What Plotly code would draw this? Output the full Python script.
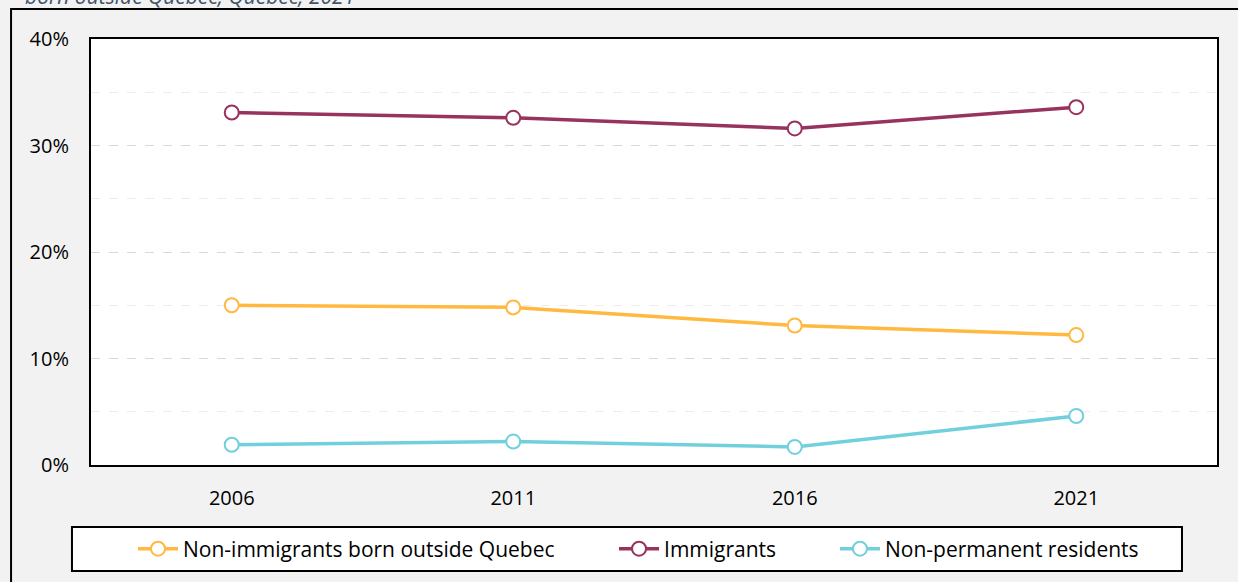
import plotly.graph_objects as go

years = ["2006", "2011", "2016", "2021"]
non_immigrants_outside = [15.0, 14.8, 13.1, 12.2]
immigrants = [33.1, 32.6, 31.6, 33.6]
non_permanent = [1.9, 2.2, 1.7, 4.6]

FONT = "Open Sans, sans-serif"

series = [
    ("Non-immigrants born outside Quebec", non_immigrants_outside, "#FFB940", "legend", 0.0373),
    ("Immigrants", immigrants, "#98325E", "legend2", 0.4645),
    ("Non-permanent residents", non_permanent, "#72D0DC", "legend3", 0.6607),
]

fig = go.Figure()
legends = {}
for name, vals, col, lg, lx in series:
    fig.add_trace(go.Scatter(
        x=years, y=vals, name=name, mode="lines+markers", legend=lg,
        line=dict(color=col, width=3.5),
        marker=dict(symbol="circle", size=14, color="white", line=dict(color=col, width=2)),
    ))
    legends[lg] = dict(x=lx, y=-0.1972, xanchor="left", yanchor="middle",
                       bgcolor="rgba(0,0,0,0)", itemwidth=40,
                       font=dict(family=FONT, size=21, color="black"))

# outer frame and legend box
fig.add_shape(type="rect", xref="paper", yref="paper",
              x0=-0.071, x1=1.2, y0=-0.5, y1=1.0704,
              line=dict(color="black", width=2), fillcolor="rgba(0,0,0,0)", layer="below")
fig.add_shape(type="rect", xref="paper", yref="paper",
              x0=-0.0169, x1=0.9689, y0=-0.1455, y1=-0.2488,
              line=dict(color="black", width=2), fillcolor="white", layer="below")

fig.add_annotation(text="born outside Quebec, Quebec, 2021", xref="paper", yref="paper",
                   x=0.236, y=1.0635, xanchor="right", yanchor="bottom", showarrow=False,
                   font=dict(family=FONT, size=21, color="#44546A", style="italic"))

fig.update_layout(
    width=1238, height=582,
    margin=dict(l=91, r=21, t=39, b=117),
    paper_bgcolor="#f2f2f2", plot_bgcolor="white",
    font=dict(family=FONT, size=20, color="black"),
    showlegend=True,
    **legends,
)
fig.update_xaxes(showline=True, mirror=True, linecolor="black", linewidth=2,
                 showgrid=False, ticks="", ticklabelstandoff=14, range=[-0.5, 3.5])
fig.update_yaxes(showline=True, mirror=True, linecolor="black", linewidth=2,
                 range=[0, 40], dtick=10, ticksuffix="%", ticks="", ticklabelstandoff=16,
                 showgrid=True, gridcolor="#d9d9d9", griddash="dash", gridwidth=1,
                 zeroline=False,
                 minor=dict(dtick=5, showgrid=True, gridcolor="#ededed", griddash="dash"))

fig.write_html("out.html", config={"displayModeBar": False},
               post_script="document.body.style.margin='0';")
